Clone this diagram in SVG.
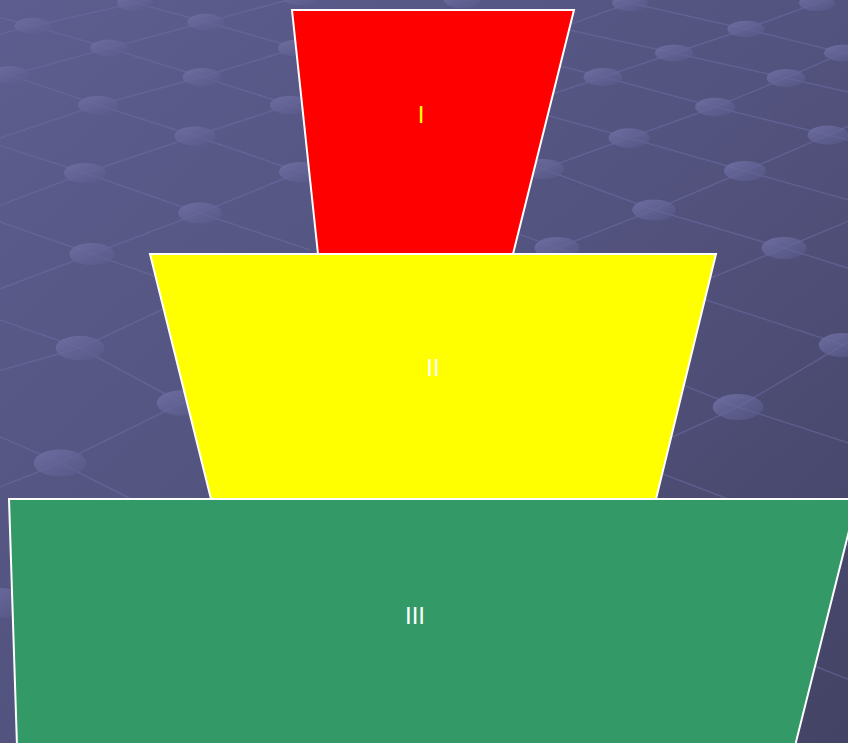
<svg xmlns="http://www.w3.org/2000/svg" width="848" height="743" viewBox="0 0 848 743">
  <defs>
    <linearGradient id="bg" x1="0" y1="0" x2="1" y2="1">
      <stop offset="0" stop-color="#5d5d8f"/>
      <stop offset="0.5" stop-color="#53537f"/>
      <stop offset="1" stop-color="#434365"/>
    </linearGradient>
    <linearGradient id="dot" x1="0" y1="0" x2="1" y2="1">
      <stop offset="0" stop-color="#7070a4" stop-opacity="0.95"/>
      <stop offset="1" stop-color="#5a5a8c" stop-opacity="0.5"/>
    </linearGradient>
    <style>
      .grid { fill: none; stroke: #6c6ca2; stroke-width: 1.5; stroke-opacity: 0.55; }
      .dot { fill: url(#dot); }
      .shape { stroke: #ffffff; stroke-width: 2; stroke-linejoin: miter; }
      .lbl { font-family: "Liberation Sans", Arial, sans-serif; font-size: 24px; text-anchor: middle; }
    </style>
  </defs>

  <!-- background -->
  <g id="background">
    <rect x="0" y="0" width="848" height="743" fill="url(#bg)"/>
    <g class="grid">
      <!-- left A-lines (down-right) -->
      <polyline points="40,-22 135,3 206,22 297,48 390,75"/>
      <polyline points="-60,2 33,26 109,48 202,77 290,105 385,135"/>
      <polyline points="-80,45 10,75 98,105 195,136 300,172 400,210"/>
      <polyline points="-20,139 85,173 200,213 310,250"/>
      <polyline points="-23,214 92,254 200,292"/>
      <polyline points="-20,313 80,348 182,403 290,465"/>
      <polyline points="-20,428 60,463 127,497 200,535"/>
      <!-- left B-lines (up-right) -->
      <polyline points="-65,50 33,26 135,3 237,-20"/>
      <polyline points="-90,102 10,75 109,48 206,22 303,-4"/>
      <polyline points="-12,142 98,105 202,77 297,48 392,20"/>
      <polyline points="-23,214 85,173 195,136 290,105 385,75"/>
      <polyline points="-16,295 92,254 200,213 300,172 400,132"/>
      <polyline points="-20,376 80,348 200,292"/>
      <polyline points="-20,495 60,463 182,403 260,365"/>
      <!-- right B-lines -->
      <polyline points="540,35 630,3 700,-22"/>
      <polyline points="520,105 603,77 674,53 746,29 817,3 860,-12"/>
      <polyline points="453,204 543,169 629,138 715,107 786,78 843,53 870,41"/>
      <polyline points="470,285 557,248 654,210 745,171 828,135 870,117"/>
      <polyline points="600,330 679,291 784,248 827,230 870,212"/>
      <polyline points="620,461 738,407 843,345 870,330"/>
      <!-- right A-lines -->
      <polyline points="520,-20 630,3 746,29 843,53 870,59"/>
      <polyline points="560,28 674,53 786,78 870,97"/>
      <polyline points="490,48 603,77 715,107 828,135 870,145"/>
      <polyline points="517,107 629,138 745,171 860,203"/>
      <polyline points="430,135 543,169 654,210 784,248 870,275"/>
      <polyline points="440,205 557,248 679,291 843,345 870,354"/>
      <polyline points="600,352 738,407 870,450"/>
      <polyline points="600,450 660,473 723,497 848,545"/>
      <polyline points="780,652 817,667 860,684"/>
    </g>
    <g>
      <ellipse class="dot" cx="135" cy="3" rx="18" ry="8"/>
      <ellipse class="dot" cx="206" cy="22" rx="18.4" ry="8.3"/>
      <ellipse class="dot" cx="297" cy="48" rx="18.9" ry="8.6"/>
      <ellipse class="dot" cx="33" cy="26" rx="18.5" ry="8.3"/>
      <ellipse class="dot" cx="109" cy="48" rx="18.9" ry="8.6"/>
      <ellipse class="dot" cx="202" cy="77" rx="19.4" ry="8.9"/>
      <ellipse class="dot" cx="290" cy="105" rx="19.9" ry="9.3"/>
      <ellipse class="dot" cx="10" cy="75" rx="19.4" ry="8.9"/>
      <ellipse class="dot" cx="98" cy="105" rx="19.9" ry="9.3"/>
      <ellipse class="dot" cx="195" cy="136" rx="20.4" ry="9.6"/>
      <ellipse class="dot" cx="300" cy="172" rx="21.1" ry="10.1"/>
      <ellipse class="dot" cx="85" cy="173" rx="21.1" ry="10.1"/>
      <ellipse class="dot" cx="200" cy="213" rx="21.8" ry="10.6"/>
      <ellipse class="dot" cx="92" cy="254" rx="22.6" ry="11"/>
      <ellipse class="dot" cx="80" cy="348" rx="24.3" ry="12.2"/>
      <ellipse class="dot" cx="182" cy="403" rx="25.3" ry="12.8"/>
      <ellipse class="dot" cx="60" cy="463" rx="26.3" ry="13.5"/>
      <ellipse class="dot" cx="300" cy="-3" rx="18" ry="8"/>
      <ellipse class="dot" cx="462" cy="0" rx="18" ry="8"/>
      <ellipse class="dot" cx="0" cy="603" rx="28" ry="15"/>
      <ellipse class="dot" cx="630" cy="3" rx="18" ry="8"/>
      <ellipse class="dot" cx="817" cy="3" rx="18" ry="8"/>
      <ellipse class="dot" cx="746" cy="29" rx="18.5" ry="8.3"/>
      <ellipse class="dot" cx="674" cy="53" rx="19" ry="8.6"/>
      <ellipse class="dot" cx="843" cy="53" rx="19" ry="8.6"/>
      <ellipse class="dot" cx="603" cy="77" rx="19.4" ry="8.9"/>
      <ellipse class="dot" cx="786" cy="78" rx="19.4" ry="8.9"/>
      <ellipse class="dot" cx="715" cy="107" rx="19.9" ry="9.3"/>
      <ellipse class="dot" cx="629" cy="138" rx="20.5" ry="9.7"/>
      <ellipse class="dot" cx="828" cy="135" rx="20.4" ry="9.6"/>
      <ellipse class="dot" cx="745" cy="171" rx="21.1" ry="10.1"/>
      <ellipse class="dot" cx="543" cy="169" rx="21" ry="10"/>
      <ellipse class="dot" cx="654" cy="210" rx="21.8" ry="10.5"/>
      <ellipse class="dot" cx="557" cy="248" rx="22.5" ry="11"/>
      <ellipse class="dot" cx="784" cy="248" rx="22.5" ry="11"/>
      <ellipse class="dot" cx="843" cy="345" rx="24.2" ry="12.1"/>
      <ellipse class="dot" cx="738" cy="407" rx="25.3" ry="12.9"/>
    </g>
  </g>

  <!-- nodes -->
  <g id="level-I">
    <polygon class="shape" points="292,10 574,10 513,254 318,254" fill="#ff0000"/>
    <text class="lbl" x="421" y="123" fill="#ffff00">I</text>
  </g>
  <g id="level-II">
    <polygon class="shape" points="150,254 716,254 656,499 211,499" fill="#ffff00"/>
    <text class="lbl" x="433" y="376" fill="#ffffff">II</text>
  </g>
  <g id="level-III">
    <polygon class="shape" points="9,499 857,499 795,746 17,746" fill="#339966"/>
    <text class="lbl" x="415" y="624" fill="#ffffff">III</text>
  </g>

  <g id="connectors"/>
</svg>
